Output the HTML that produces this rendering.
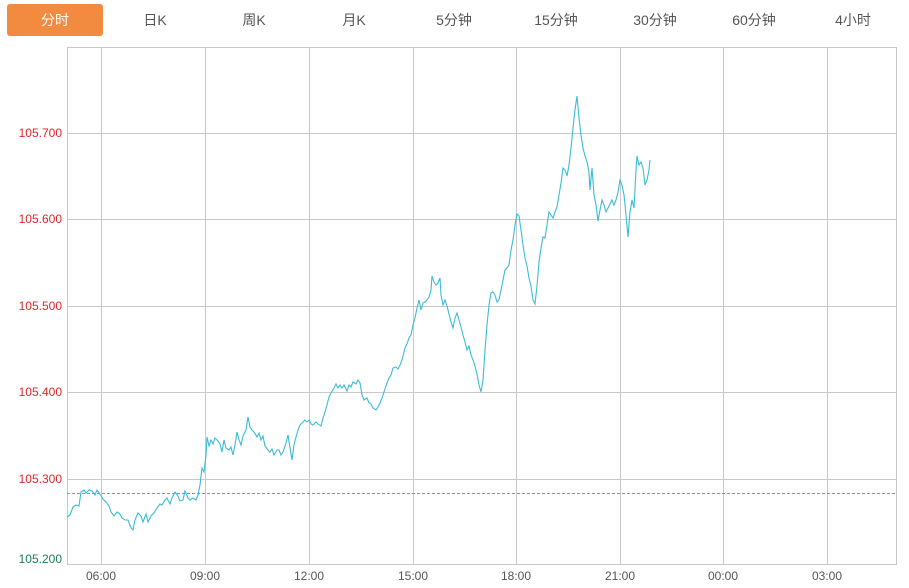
<!DOCTYPE html>
<html><head><meta charset="utf-8"><style>
body{margin:0;width:909px;height:588px;background:#fff;font-family:"Liberation Sans","Noto Sans CJK SC",sans-serif;overflow:hidden;position:relative}
.tab{position:absolute;top:4px;height:32px;line-height:32px;font-size:14px;color:#555;text-align:center;width:96px}
.on{background:#f28a3f;color:#fff;border-radius:3px}
</style></head><body>
<div class="tab on" style="left:7px">分时</div>
<div class="tab" style="left:107px">日K</div>
<div class="tab" style="left:206px">周K</div>
<div class="tab" style="left:306px">月K</div>
<div class="tab" style="left:406px">5分钟</div>
<div class="tab" style="left:508px">15分钟</div>
<div class="tab" style="left:607px">30分钟</div>
<div class="tab" style="left:706px">60分钟</div>
<div class="tab" style="left:805px">4小时</div>
<svg width="909" height="588" style="position:absolute;left:0;top:0" font-family="Liberation Sans,sans-serif" font-size="12">
<g stroke="#c8c8c8" stroke-width="1" fill="none">
<rect x="67.5" y="47.5" width="829" height="517"/>
<path d="M101.5 47V564M205.5 47V564M309.5 47V564M413.5 47V564M516.5 47V564M620.5 47V564M723.5 47V564M827.5 47V564"/>
<path d="M67 133.5H896M67 219.5H896M67 306.5H896M67 392.5H896M67 479.5H896"/>
</g>
<line x1="67" y1="493.5" x2="896" y2="493.5" stroke="#e8743b" stroke-dasharray="3,2" stroke-width="1"/>
<g fill="#e0262b" text-anchor="end">
<text x="62" y="137">105.700</text><text x="62" y="223">105.600</text><text x="62" y="310">105.500</text><text x="62" y="396">105.400</text><text x="62" y="483">105.300</text>
</g>
<text x="62" y="563" text-anchor="end" fill="#1f7a5a">105.200</text>
<g fill="#555" text-anchor="middle">
<text x="101" y="580">06:00</text><text x="205" y="580">09:00</text><text x="309" y="580">12:00</text><text x="413" y="580">15:00</text><text x="516" y="580">18:00</text><text x="620" y="580">21:00</text><text x="723" y="580">00:00</text><text x="827" y="580">03:00</text>
</g>
<polyline fill="none" stroke="#3bbcd6" stroke-width="1.1" points="67,517 70,515 73,507 76,505 79,506 81,492 84,490 86,493 89,490 92,491 95,495 97,490 100,494 103,499 106,502 109,506 111,512 114,516 117,512 120,514 122,518 125,520 128,520 131,528 133,530 135,520 138,513 141,516 143,522 146,514 148,522 151,516 154,513 157,508 160,504 162,505 165,500 167,498 170,504 172,498 175,492 178,496 180,501 183,500 185,491 188,498 190,500 193,498 196,500 198,495 200,485 202,468 204,472 206,455 207,437 209,446 211,440 213,444 215,438 218,441 220,444 222,452 224,440 226,448 229,450 231,447 233,455 235,445 237,432 239,440 241,445 243,436 246,430 248,417 250,427 252,430 254,432 257,437 259,433 261,440 263,436 265,446 268,450 270,452 272,449 274,455 277,450 279,450 281,455 283,452 286,443 288,435 290,448 292,460 294,445 296,437 298,430 300,425 302,423 305,420 307,422 309,420 311,424 313,425 316,422 318,424 321,426 323,418 325,412 327,405 329,397 331,393 334,388 336,384 338,388 340,385 342,388 344,385 347,391 349,385 351,387 353,382 356,384 358,380 360,383 362,395 364,400 367,398 369,403 371,404 373,408 376,410 378,407 380,403 382,398 385,389 387,383 389,378 391,375 393,368 396,367 398,369 400,365 402,360 405,348 407,344 409,338 411,335 413,325 415,318 417,308 419,300 421,310 423,303 425,302 427,300 429,297 431,290 432,276 434,282 436,285 438,283 440,278 441,295 443,305 445,300 447,306 449,314 451,322 453,328 455,318 457,313 459,320 461,327 463,335 465,342 467,350 469,346 471,355 473,360 475,366 477,374 479,385 481,392 483,380 485,350 487,325 489,305 491,293 493,292 495,295 497,302 499,300 501,290 503,280 505,270 507,268 509,265 511,250 513,240 515,225 517,214 519,216 521,230 523,245 525,258 527,266 529,278 531,286 533,300 535,304 537,286 539,262 541,248 543,237 545,238 547,225 549,212 551,215 553,218 555,212 557,207 559,195 561,183 563,168 565,170 567,176 569,165 571,148 573,128 575,110 577,96 579,118 581,135 583,148 585,156 587,162 589,172 590,190 592,168 594,195 596,205 598,221 600,210 602,200 604,205 606,212 608,208 610,204 612,200 614,205 616,200 618,192 620,180 622,185 624,195 626,215 628,237 630,212 632,200 634,208 636,170 637,156 639,165 641,162 643,168 645,185 647,180 649,170 650,160"/>
</svg>
</body></html>
